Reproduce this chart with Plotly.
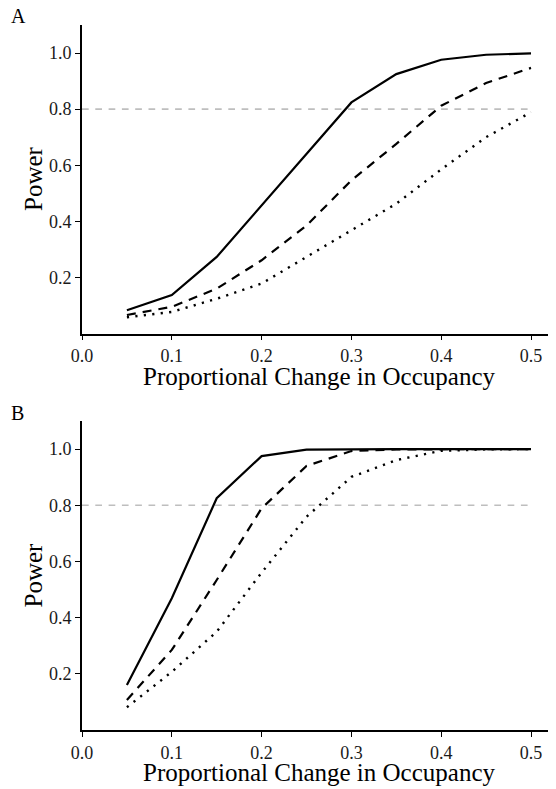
import plotly.graph_objects as go

# ---- data ----
change = [0.05, 0.10, 0.15, 0.20, 0.25, 0.30, 0.35, 0.40, 0.45, 0.50]

a_solid = [0.083, 0.137, 0.273, 0.457, 0.641, 0.824, 0.925, 0.976, 0.994, 0.999]
a_dashed = [0.066, 0.095, 0.160, 0.261, 0.385, 0.546, 0.676, 0.812, 0.893, 0.947]
a_dotted = [0.058, 0.077, 0.124, 0.178, 0.273, 0.368, 0.463, 0.585, 0.700, 0.789]

b_solid = [0.160, 0.469, 0.825, 0.975, 0.998, 1.0, 1.0, 1.0, 1.0, 1.0]
b_dashed = [0.107, 0.285, 0.534, 0.789, 0.940, 0.993, 0.999, 1.0, 1.0, 1.0]
b_dotted = [0.081, 0.207, 0.350, 0.560, 0.759, 0.901, 0.961, 0.994, 0.999, 1.0]

ref_x = [0.0, 0.5]
ref_y = [0.8, 0.8]

x_ticks = [0.0, 0.1, 0.2, 0.3, 0.4, 0.5]
y_ticks = [0.2, 0.4, 0.6, 0.8, 1.0]
x_title = "Proportional Change in Occupancy"
y_title = "Power"
panel_labels = ["A", "B"]

# ---- layout geometry ----
# page body has an 8px margin, so the figure is offset by OFF pixels
OFF = 8
PAGE_W, PAGE_H = 556, 789
W, H = PAGE_W - OFF, PAGE_H - OFF
L = 82 - OFF
R = 0
T = 25 - OFF
B = PAGE_H - 730
plot_h = H - T - B
plot_w = W - L - R


def py(p):
    """page pixel y -> paper coordinate"""
    return (H - B - (p - OFF)) / plot_h


def px(p):
    """page pixel x -> paper coordinate"""
    return ((p - OFF) - L) / plot_w


FONT = "Liberation Serif, Times New Roman, serif"

fig = go.Figure()

series = [
    ("solid", "solid", 2.2),
    ("dashed", "9px,7px", 2.2),
    ("dotted", "2.2px,6.3px", 2.4),
]

panels = [
    ("x", "y", [a_solid, a_dashed, a_dotted]),
    ("x2", "y2", [b_solid, b_dashed, b_dotted]),
]

for xa, ya, ys in panels:
    fig.add_trace(go.Scatter(
        x=ref_x, y=ref_y, mode="lines", xaxis=xa, yaxis=ya,
        line=dict(color="#bebebe", width=1.6, dash="6.7px,6.6px"),
        showlegend=False, hoverinfo="skip"))
    for (name, dash, w), vals in zip(series, ys):
        fig.add_trace(go.Scatter(
            x=change, y=vals, mode="lines", name=name, xaxis=xa, yaxis=ya,
            line=dict(color="black", width=w, dash=dash),
            showlegend=False))

axis_common = dict(
    showline=True, linecolor="black", linewidth=1.8,
    ticks="outside", ticklen=5, tickwidth=1.4, tickcolor="black",
    showgrid=False, zeroline=False,
    tickfont=dict(family=FONT, size=18, color="#1a1a1a"),
    tickformat=".1f",
)

x_max = 0.5 * plot_w / (531 - 82)

a_dom = [py(333.5), 1.0]
b_dom = [0.0, py(421)]

fig.update_layout(
    width=W, height=H,
    margin=dict(l=L, r=R, t=T, b=B),
    paper_bgcolor="white", plot_bgcolor="white",
    showlegend=False,
    xaxis=dict(axis_common, range=[0, x_max], tickvals=x_ticks, anchor="y",
               domain=[0, 1]),
    yaxis=dict(axis_common, range=[0, 1.1], tickvals=y_ticks, anchor="x",
               domain=a_dom),
    xaxis2=dict(axis_common, range=[0, x_max], tickvals=x_ticks, anchor="y2",
                domain=[0, 1]),
    yaxis2=dict(axis_common, range=[0, 1.1], tickvals=y_ticks, anchor="x2",
                domain=b_dom),
)

ann = []
title_font = dict(family=FONT, size=25, color="black")
label_font = dict(family=FONT, size=20, color="black")
# x titles
for ycap in (376, 772):
    ann.append(dict(text=x_title, xref="paper", yref="paper",
                    x=px(319), y=py(ycap), xanchor="center", yanchor="middle",
                    showarrow=False, font=title_font))
# y titles
for ycen in (179, 575.5):
    ann.append(dict(text=y_title, xref="paper", yref="paper",
                    x=px(33), y=py(ycen), xanchor="center", yanchor="middle",
                    textangle=-90, showarrow=False, font=title_font))
# panel labels
for lab, ycen in zip(panel_labels, (16, 413)):
    ann.append(dict(text=lab, xref="paper", yref="paper",
                    x=px(9), y=py(ycen), xanchor="left", yanchor="middle",
                    showarrow=False, font=label_font))
fig.update_layout(annotations=ann)

fig.write_html("out.html")
